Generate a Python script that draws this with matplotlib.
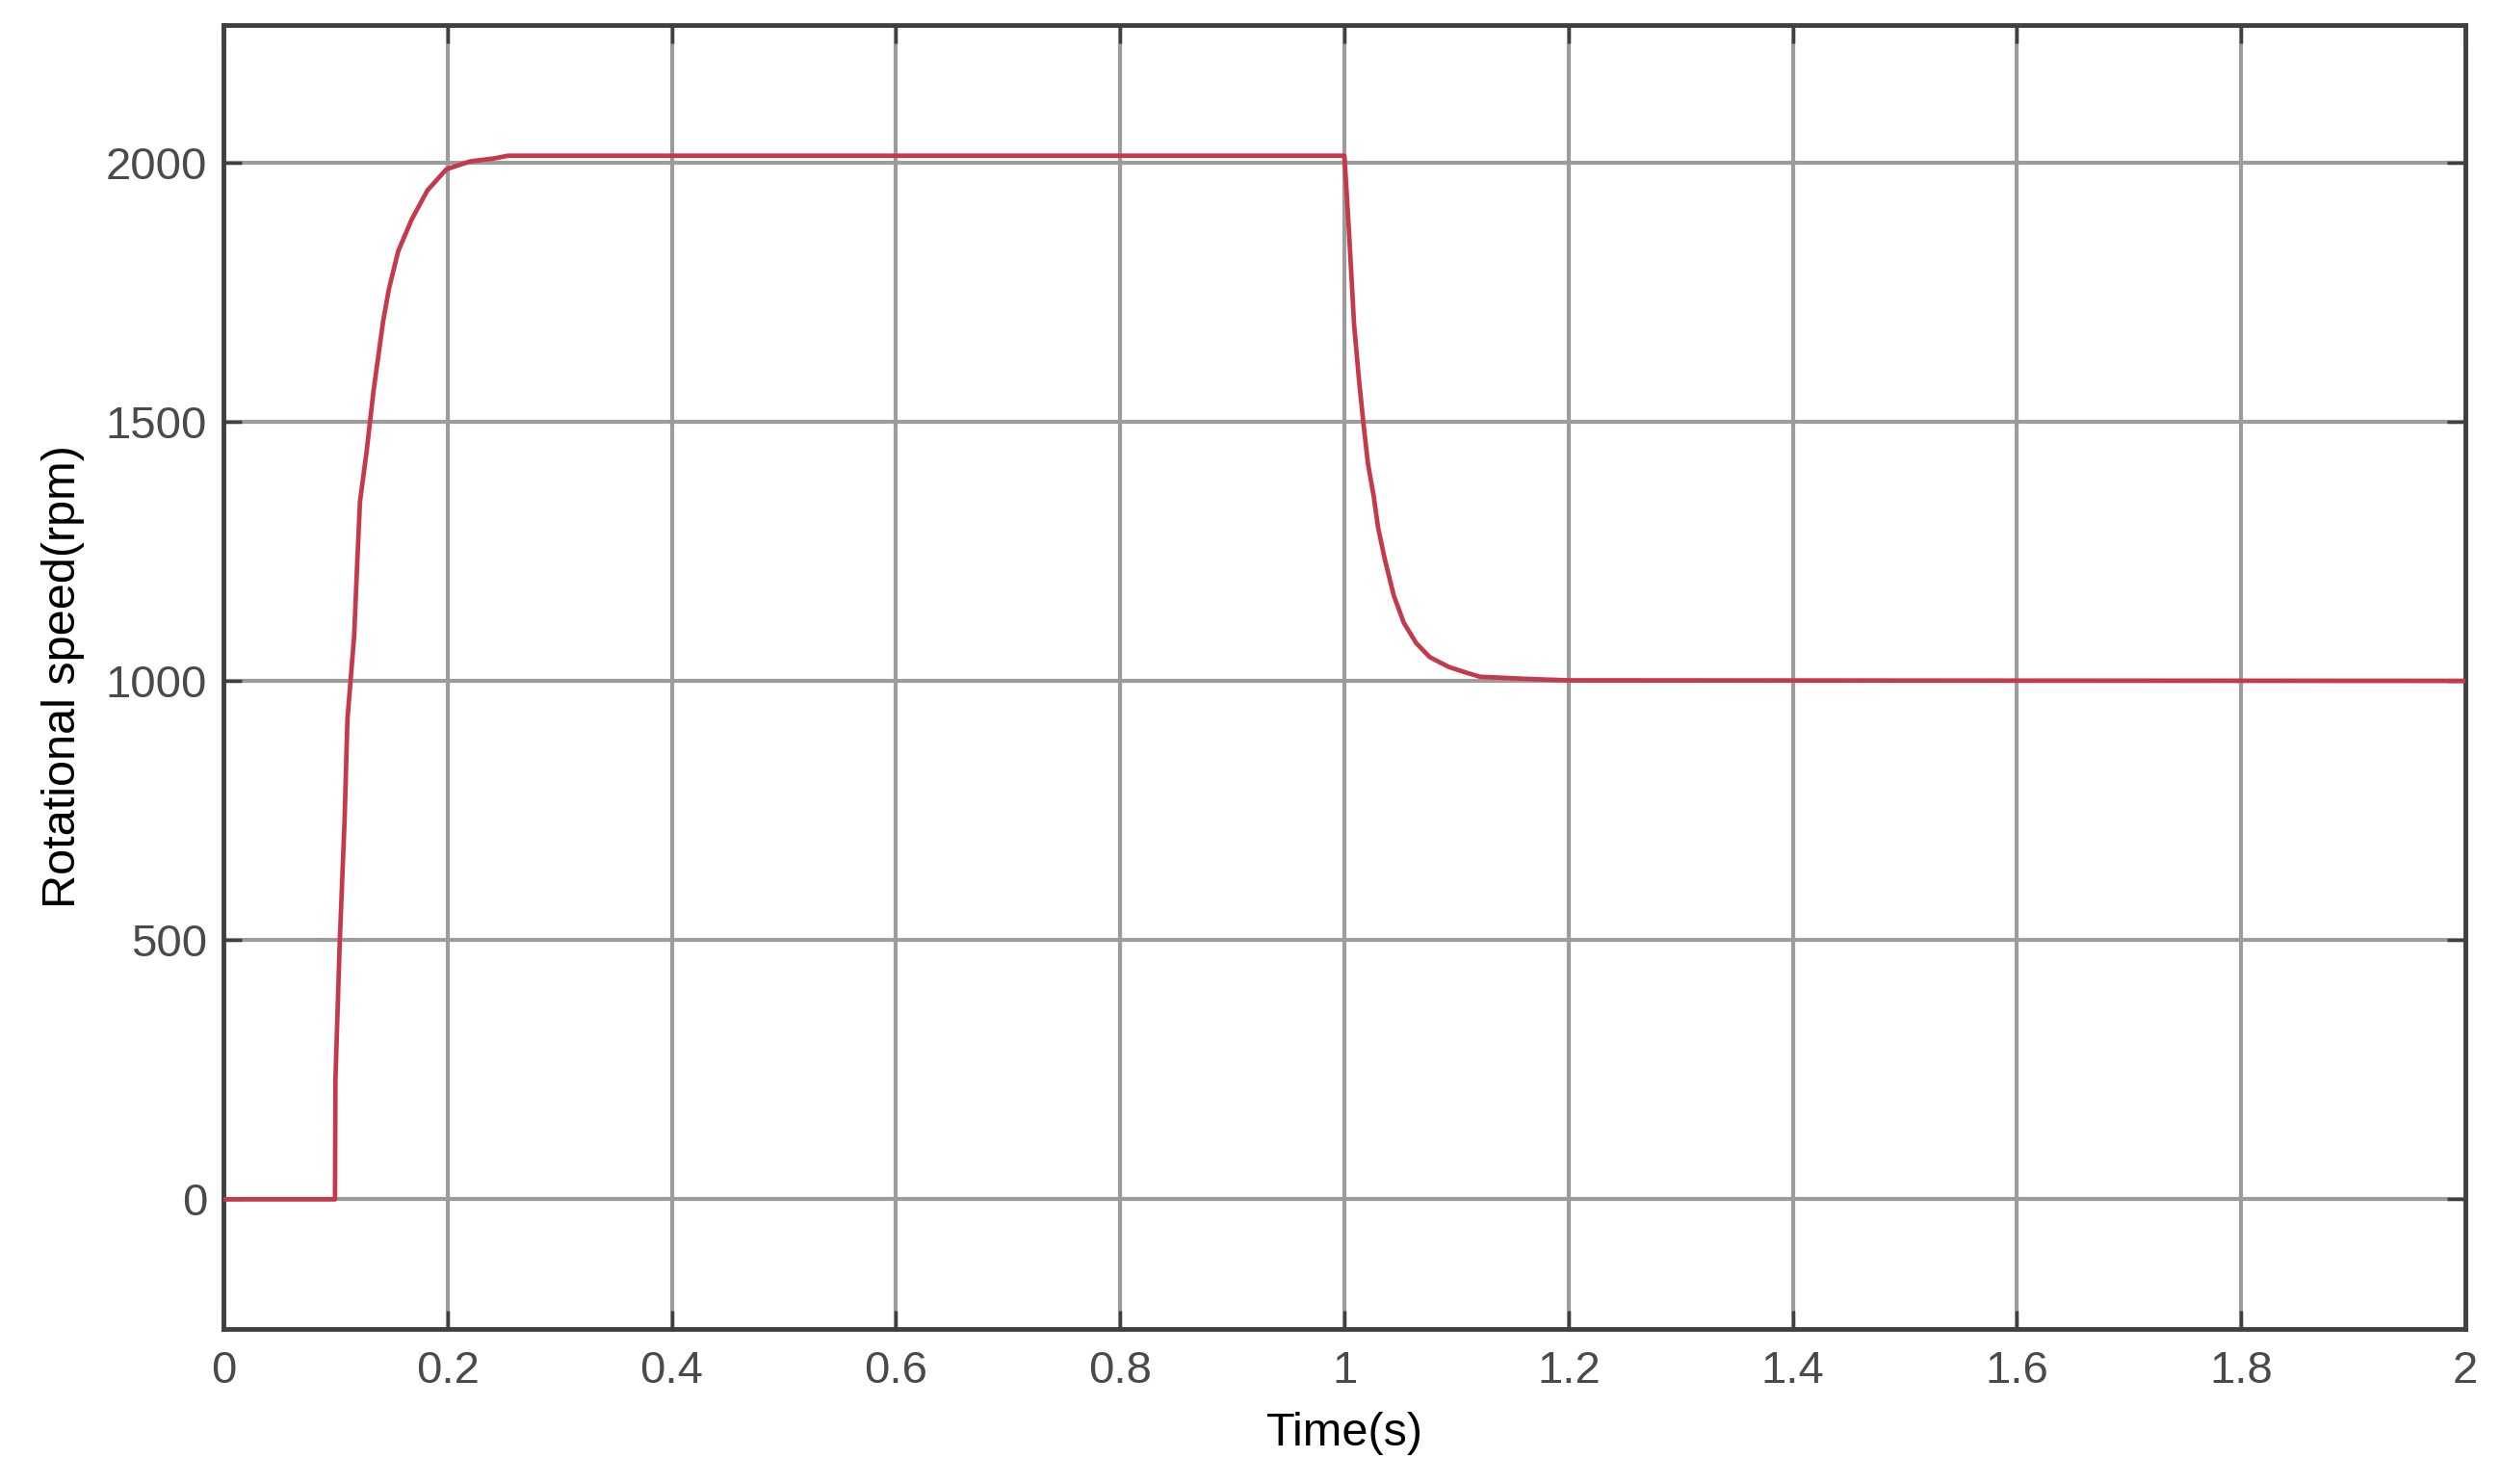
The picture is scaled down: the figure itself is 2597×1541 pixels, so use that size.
import matplotlib
matplotlib.use("Agg")
import matplotlib.pyplot as plt

# Data
time_s = [0.0, 0.0996, 0.1000, 0.1039, 0.1082, 0.1107, 0.1167, 0.1193, 0.1219,
          0.1279, 0.1340, 0.1425, 0.1476, 0.1560, 0.1680, 0.1820, 0.1990,
          0.2200, 0.2420, 0.2540, 1.0000, 1.0040, 1.0086, 1.0130, 1.0170,
          1.0210, 1.0260, 1.0300, 1.0360, 1.0440, 1.0530, 1.0640, 1.0760,
          1.0930, 1.1100, 1.1210, 1.1610, 1.2000, 2.0000]
speed_rpm = [0, 0, 232, 500, 734, 926, 1087, 1221, 1346,
             1444, 1560, 1693, 1755, 1829, 1890, 1946, 1987,
             2002, 2008, 2013, 2013, 1870, 1688, 1581, 1496,
             1419, 1358, 1296, 1235, 1165, 1112, 1073, 1046,
             1027, 1015, 1008, 1004, 1001, 1000]

x_ticks = [0, 0.2, 0.4, 0.6, 0.8, 1.0, 1.2, 1.4, 1.6, 1.8, 2.0]
x_tick_labels = ["0", "0.2", "0.4", "0.6", "0.8", "1", "1.2", "1.4", "1.6", "1.8", "2"]
y_ticks = [0, 500, 1000, 1500, 2000]
y_tick_labels = ["0", "500", "1000", "1500", "2000"]

plt.rcParams['font.family'] = ['Liberation Sans', 'DejaVu Sans']

fig = plt.figure(figsize=(25.97, 15.41), dpi=100)
ax = fig.add_axes([0.0893, 0.1045, 0.9858 - 0.0893, 0.9831 - 0.1045])

ax.plot(time_s, speed_rpm, color='#c43a4c', linewidth=3.4, zorder=3)

ax.set_xlim(0, 2)
ax.set_ylim(-250, 2265)
ax.set_xticks(x_ticks)
ax.set_xticklabels(x_tick_labels)
ax.set_yticks(y_ticks)
ax.set_yticklabels(y_tick_labels)

ax.grid(True, color='#9c9c9c', linewidth=3.0, zorder=1)
ax.set_axisbelow(True)

for s in ax.spines.values():
    s.set_color('#404040')
    s.set_linewidth(3.5)

ax.tick_params(axis='both', which='major', direction='in', length=14, width=2.5,
               color='#404040', labelsize=34, labelcolor='#4a4a4a',
               top=True, right=True, pad=12)
ax.tick_params(axis='x', pad=16)

ax.set_xlabel("Time(s)", fontsize=35, color='black', labelpad=14)
ax.set_ylabel("Rotational speed(rpm)", fontsize=35, color='black', labelpad=16)

fig.savefig("out.png", dpi=100, facecolor='white')
